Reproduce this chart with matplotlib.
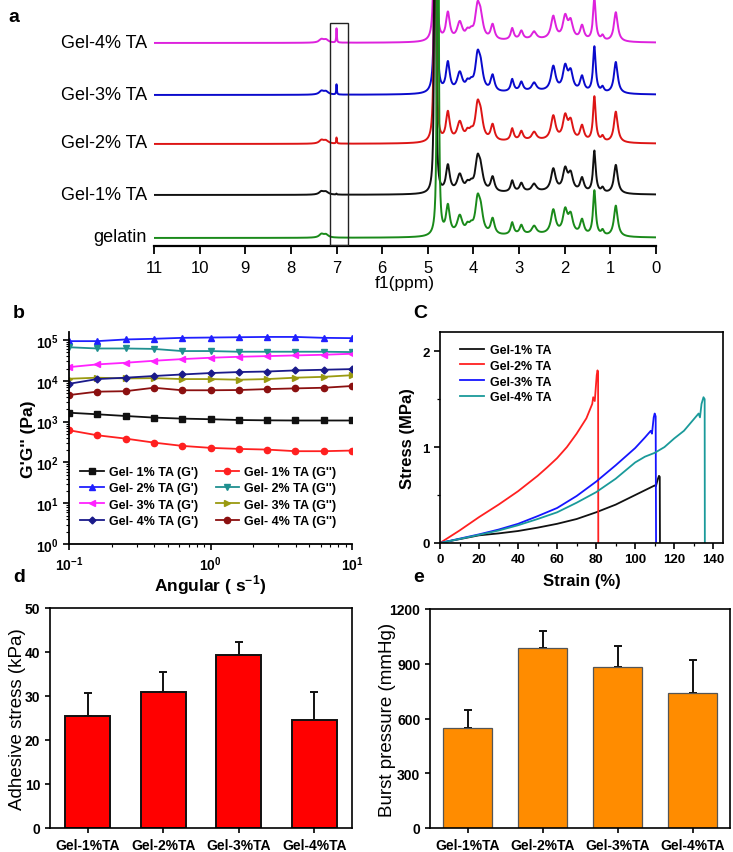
import numpy as np
import matplotlib
matplotlib.use('Agg')
import matplotlib.pyplot as plt
from matplotlib.patches import Rectangle
from matplotlib.transforms import blended_transform_factory
from matplotlib.ticker import MultipleLocator, FuncFormatter, LogLocator, NullFormatter, FixedLocator

plt.rcParams['font.family'] = ['Liberation Sans', 'DejaVu Sans']
plt.rcParams['mathtext.fontset'] = 'custom'
plt.rcParams['mathtext.rm'] = 'Liberation Sans'
plt.rcParams['mathtext.bf'] = 'Liberation Sans:bold'

# ---- a: 1H NMR peak tables (ppm, height in px, half width in ppm)
nmr_names   = ['gelatin', 'Gel-1% TA', 'Gel-2% TA', 'Gel-3% TA', 'Gel-4% TA']
nmr_colors  = ['#1a8a1a', '#111111', '#dd1515', '#0a0acc', '#dd22dd']
peak_ppm    = [7.33, 7.23, 4.56, 4.30, 4.13, 4.05, 3.91, 3.84, 3.58, 3.15, 2.95, 2.67,
               2.25, 1.99, 1.87, 1.62, 1.35, 1.17, 0.88, 2.60]
peak_height = [3.5, 3.0, 29, 19, 7, 6, 32, 20, 16, 12, 9, 8,
               24, 23, 18, 15, 45, 5, 31, 3]
peak_hw     = [0.06, 0.06, 0.05, 0.07, 0.05, 0.05, 0.06, 0.06, 0.05, 0.04, 0.045, 0.06,
               0.06, 0.06, 0.06, 0.05, 0.035, 0.035, 0.05, 1.0]
water_ppm   = [4.78, 4.84, 4.84, 4.83, 4.84]
water_h     = 2000
ta_ppm      = 7.0
ta_height   = [0, 1, 6, 10, 15]
spec_scale  = [1.0, 0.93, 1.0, 1.02, 0.95]

# ---- b: rheology
freq = [0.1, 0.158, 0.251, 0.398, 0.631, 1.0, 1.585, 2.51, 3.98, 6.31, 10.0]
rheo_labels = ["Gel- 1% TA (G')", "Gel- 1% TA (G'')", "Gel- 2% TA (G')", "Gel- 2% TA (G'')",
               "Gel- 3% TA (G')", "Gel- 3% TA (G'')", "Gel- 4% TA (G')", "Gel- 4% TA (G'')"]
g1p  = [1660, 1520, 1380, 1260, 1190, 1150, 1100, 1080, 1070, 1070, 1070]
g1pp = [617, 465, 385, 307, 255, 228, 215, 207, 189, 189, 196]
g2p  = [94600, 94600, 104000, 108000, 114000, 116000, 118000, 120000, 120000, 114000, 112000]
g2pp = [67000, 62500, 62500, 61000, 54000, 54000, 52000, 52000, 52000, 52000, 51000]
g3p  = [21800, 25400, 27900, 31200, 34300, 37000, 39100, 40600, 42200, 43800, 46400]
g3pp = [11300, 12000, 11500, 11700, 11100, 11100, 10700, 11100, 12000, 12600, 13800]
g4p  = [8500, 11100, 12000, 13200, 14400, 15600, 16500, 17000, 18100, 18800, 19500]
g4pp = [4500, 5450, 5600, 6800, 5900, 5900, 5980, 6300, 6560, 6800, 7500]
rheo_data = [g1p, g1pp, g2p, g2pp, g3p, g3pp, g4p, g4pp]
rheo_colors = ['#111111', '#ff2020', '#2020ff', '#209090', '#ff22ff', '#9a9a10', '#1a1a8a', '#8b1010']
rheo_markers = ['s', 'o', '^', 'v', '<', '>', 'D', 'o']

# ---- c: tensile stress-strain
tens_labels = ['Gel-1% TA', 'Gel-2% TA', 'Gel-3% TA', 'Gel-4% TA']
tens_colors = ['#111111', '#ff2020', '#1515ff', '#1a9a9a']
strain_1 = [0, 10, 20, 30, 40, 50, 60, 70, 80, 90, 100, 105, 110, 110.6, 111.5, 112.2, 112.6, 112.7]
stress_1 = [0, 0.04, 0.08, 0.10, 0.125, 0.16, 0.20, 0.25, 0.32, 0.40, 0.50, 0.55, 0.60, 0.59, 0.66, 0.70, 0.69, 0]
strain_2 = [0, 5, 10, 15, 20, 25, 30, 35, 40, 45, 50, 55, 60, 65, 70, 75, 78, 78.5, 79.3, 80.3, 80.7, 81.0, 81.1]
stress_2 = [0, 0.065, 0.13, 0.20, 0.27, 0.335, 0.40, 0.47, 0.54, 0.62, 0.70, 0.79, 0.885, 1.00, 1.14, 1.30, 1.45, 1.52, 1.48, 1.75, 1.80, 1.78, 0]
strain_3 = [0, 10, 20, 30, 40, 50, 60, 70, 80, 90, 100, 105, 108, 108.6, 109.5, 110, 110.5, 110.7]
stress_3 = [0, 0.045, 0.09, 0.14, 0.20, 0.28, 0.365, 0.49, 0.64, 0.81, 0.99, 1.10, 1.17, 1.14, 1.31, 1.35, 1.32, 0]
strain_4 = [0, 10, 20, 30, 40, 50, 60, 70, 80, 90, 100, 105, 110, 115, 120, 125, 130, 132.5, 133.2, 134, 135, 135.6, 135.7]
stress_4 = [0, 0.042, 0.085, 0.13, 0.185, 0.25, 0.32, 0.42, 0.53, 0.67, 0.84, 0.90, 0.94, 1.00, 1.09, 1.17, 1.29, 1.35, 1.31, 1.45, 1.52, 1.50, 0]
tens_x = [strain_1, strain_2, strain_3, strain_4]
tens_y = [stress_1, stress_2, stress_3, stress_4]

# ---- d, e: bars
groups = ['Gel-1%TA', 'Gel-2%TA', 'Gel-3%TA', 'Gel-4%TA']
adhesive = [25.4, 30.8, 39.4, 24.5]
adhesive_err = [5.3, 4.7, 2.9, 6.5]
burst = [550, 989, 884, 737]
burst_err = [95, 88, 114, 185]

W, H = 733, 853
fig = plt.figure(figsize=(W / 100, H / 100), dpi=100)


def ax_px(x0, y0, x1, y1):
    return fig.add_axes([x0 / W, 1 - y1 / H, (x1 - x0) / W, (y1 - y0) / H])


# ================= a
ax = ax_px(154, 0, 656, 247)
ppm = np.linspace(0, 11, 8000)
offsets = [8, 51, 102, 151, 203]
for i in range(4, -1, -1):
    s = np.zeros_like(ppm)
    for p, h, w in zip(peak_ppm, peak_height, peak_hw):
        s += h * w**2 / ((ppm - p)**2 + w**2)
    s += water_h * 0.008**2 / ((ppm - water_ppm[i])**2 + 0.008**2)
    if ta_height[i]:
        s += ta_height[i] * 0.008**2 / ((ppm - ta_ppm)**2 + 0.008**2)
    ax.plot(ppm, offsets[i] + spec_scale[i] * s, color=nmr_colors[i], lw=1.4, zorder=10 - i)
ax.set_xlim(11, 0)
ax.set_ylim(0, 247)
ax.add_patch(Rectangle((7.14, 1), -0.40, 222, fill=False, ec='#222222', lw=1.0, zorder=20))
for sp in ['left', 'right', 'top']:
    ax.spines[sp].set_visible(False)
ax.spines['bottom'].set_linewidth(1.6)
ax.set_yticks([])
ax.set_xticks(range(12))
ax.tick_params(axis='x', direction='out', length=6, width=1.3, labelsize=12, pad=4)
ax.set_xlabel('f1(ppm)', fontsize=12.5, labelpad=0)
tr = blended_transform_factory(ax.transAxes, ax.transData)
for i, name in enumerate(nmr_names):
    ax.text(-0.014, offsets[i] + 1, name, transform=tr, ha='right', va='center', fontsize=13)
fig.text(8 / W, 1 - 18 / H, 'a', fontsize=14, fontweight='bold', va='center')

# ================= b
bx = ax_px(69, 333, 352, 545)
lines = []
for d, lab, c, m in zip(rheo_data, rheo_labels, rheo_colors, rheo_markers):
    ms = 3.5 if m == 'D' else 4.5
    ln, = bx.plot(freq, d, color=c, marker=m, ms=ms, lw=1.3, label=lab)
    lines.append(ln)
bx.set_xscale('log')
bx.set_yscale('log')
bx.set_xlim(0.1, 10)
bx.set_ylim(1, 10**5.2)
for sp in ['right', 'top']:
    bx.spines[sp].set_visible(False)
for sp in ['left', 'bottom']:
    bx.spines[sp].set_linewidth(1.3)
bx.yaxis.set_major_locator(FixedLocator([1, 10, 100, 1e3, 1e4, 1e5]))
bx.yaxis.set_minor_locator(LogLocator(base=10, subs=np.arange(2, 10), numticks=20))
bx.xaxis.set_major_locator(FixedLocator([0.1, 1, 10]))
bx.xaxis.set_minor_locator(LogLocator(base=10, subs=np.arange(2, 10), numticks=20))
fmt = FuncFormatter(lambda v, p: r'$\mathbf{10^{%d}}$' % round(np.log10(v)))
bx.xaxis.set_major_formatter(fmt)
bx.yaxis.set_major_formatter(fmt)
bx.xaxis.set_minor_formatter(NullFormatter())
bx.yaxis.set_minor_formatter(NullFormatter())
bx.tick_params(which='major', direction='out', length=4, width=1.2, labelsize=10)
bx.tick_params(which='minor', direction='out', length=2, width=0.8)
bx.set_xlabel('Angular ( s$^{\\mathbf{-1}}$)', fontsize=12.5, fontweight='bold')
bx.set_ylabel("G'G'' (Pa)", fontsize=12.5, fontweight='bold')
bx.xaxis.set_label_coords(0.5, -28 / 212)
bx.yaxis.set_label_coords(-33 / 283, 0.5)
order = [0, 2, 4, 6, 1, 3, 5, 7]
bx.legend([lines[k] for k in order], [rheo_labels[k] for k in order], ncol=2,
          loc='lower left', bbox_to_anchor=(11 / 283, 0.08), frameon=False,
          prop={'weight': 'bold', 'size': 9}, handlelength=1.9, handletextpad=0.4,
          columnspacing=1.4, labelspacing=0.35, borderpad=0, borderaxespad=0)
fig.text(13 / W, 1 - 313 / H, 'b', fontsize=14, fontweight='bold', va='center')

# ================= c
cx = ax_px(440, 333, 723, 544)
for xs, ys, c, lab in zip(tens_x, tens_y, tens_colors, tens_labels):
    cx.plot(xs, ys, color=c, lw=1.3, label=lab)
cx.set_xlim(0, 145)
cx.set_ylim(0, 2.2)
cx.xaxis.set_major_locator(MultipleLocator(20))
cx.xaxis.set_minor_locator(MultipleLocator(10))
cx.yaxis.set_major_locator(MultipleLocator(1))
cx.yaxis.set_minor_locator(MultipleLocator(0.5))
for sp in cx.spines.values():
    sp.set_linewidth(1.2)
cx.tick_params(which='major', direction='out', length=4, width=1.2, labelsize=9.5)
cx.tick_params(which='minor', direction='out', length=2, width=0.9)
for t in cx.get_xticklabels() + cx.get_yticklabels():
    t.set_fontweight('bold')
cx.set_xlabel('Strain (%)', fontsize=12, fontweight='bold')
cx.set_ylabel('Stress (MPa)', fontsize=12, fontweight='bold')
cx.xaxis.set_label_coords(0.5, -30 / 211)
cx.yaxis.set_label_coords(-25 / 283, 0.5)
cx.legend(loc='upper left', bbox_to_anchor=(20 / 283, 1 - 12 / 211), frameon=False,
          prop={'weight': 'bold', 'size': 9}, handlelength=1.9, handletextpad=0.5,
          labelspacing=0.3, borderpad=0, borderaxespad=0)
fig.text(413 / W, 1 - 313 / H, 'C', fontsize=14, fontweight='bold', va='center')

# ================= d
dx = ax_px(50, 609, 352, 829)
pos = np.arange(len(groups))
dx.bar(pos, adhesive, width=0.6, color='#ff0000', edgecolor='#111111', lw=1.4, zorder=2)
dx.errorbar(pos, adhesive, yerr=[np.zeros(4), adhesive_err], fmt='none', ecolor='#111111',
            elinewidth=1.4, capsize=3, capthick=1.4, zorder=1)
dx.set_xlim(-0.5, 3.5)
dx.set_ylim(0, 50)
dx.set_xticks(pos)
dx.set_xticklabels(groups)
dx.yaxis.set_major_locator(MultipleLocator(10))
for sp in dx.spines.values():
    sp.set_linewidth(1.2)
dx.tick_params(direction='out', length=3.5, width=1.2, labelsize=10)
for t in dx.get_xticklabels() + dx.get_yticklabels():
    t.set_fontweight('bold')
dx.set_ylabel('Adhesive stress (kPa)', fontsize=13.5)
dx.yaxis.set_label_coords(-24 / 302, 0.5)
fig.text(13 / W, 1 - 578 / H, 'd', fontsize=14, fontweight='bold', va='center')

# ================= e
ex = ax_px(430, 610, 730, 829)
ex.bar(pos, burst, width=0.66, color='#ff8c00', edgecolor='#555555', lw=0.9, zorder=2)
ex.errorbar(pos, burst, yerr=[np.zeros(4), burst_err], fmt='none', ecolor='#111111',
            elinewidth=1.4, capsize=3, capthick=1.4, zorder=1)
ex.set_xlim(-0.5, 3.5)
ex.set_ylim(0, 1200)
ex.set_xticks(pos)
ex.set_xticklabels(groups)
ex.yaxis.set_major_locator(MultipleLocator(300))
for sp in ex.spines.values():
    sp.set_linewidth(1.2)
ex.tick_params(direction='out', length=3.5, width=1.2, labelsize=10)
for t in ex.get_xticklabels() + ex.get_yticklabels():
    t.set_fontweight('bold')
ex.set_ylabel('Burst pressure (mmHg)', fontsize=13.5)
ex.yaxis.set_label_coords(-34 / 300, 0.5)
fig.text(413 / W, 1 - 578 / H, 'e', fontsize=14, fontweight='bold', va='center')

fig.savefig('out.png', dpi=100)
